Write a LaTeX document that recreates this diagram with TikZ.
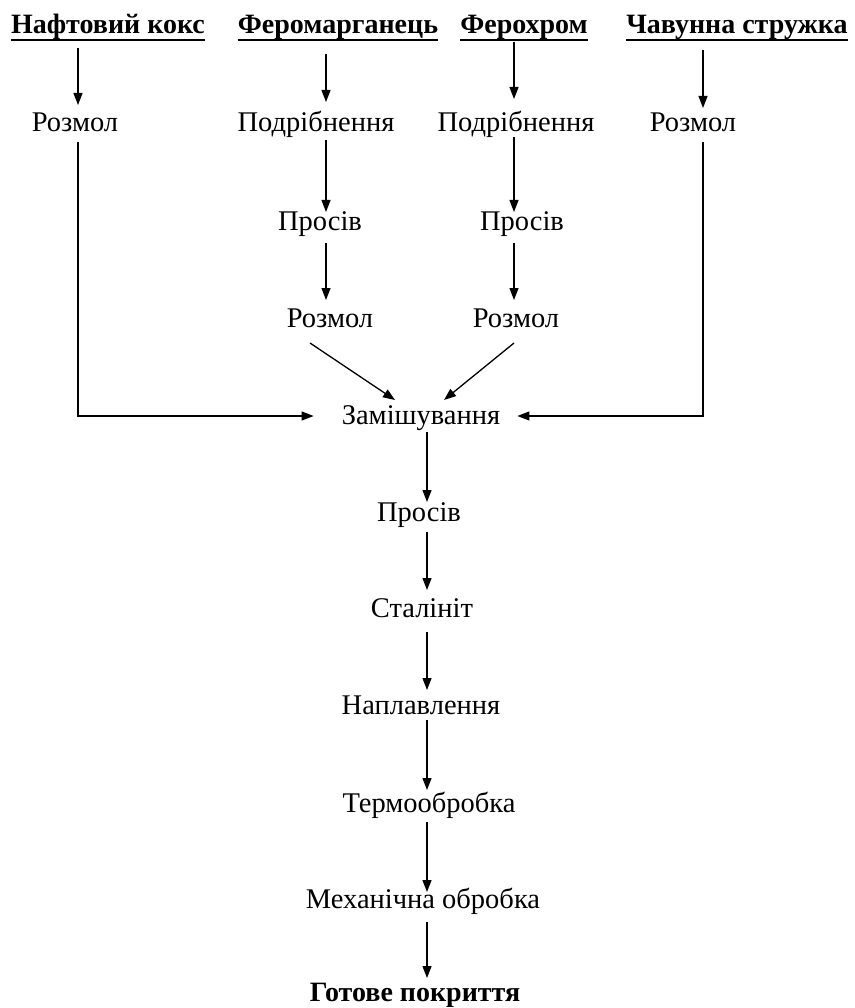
\documentclass[tikz,border=0pt]{standalone}
\usepackage{fontspec}
\setmainfont{Liberation Serif}
\usetikzlibrary{arrows.meta}
\begin{document}
\begin{tikzpicture}[x=1pt,y=1pt,
  lab/.style={anchor=base,inner sep=0pt,font=\fontsize{28.5}{30}\selectfont},
  head/.style={anchor=base,inner sep=0pt,font=\fontsize{28}{30}\selectfont\bfseries},
  arr/.style={line width=1.3pt,-{Triangle[length=12pt,width=9pt]}},
  uline/.style={line width=1.8pt}]
\useasboundingbox (0,0) rectangle (854,-1008);
% column coordinates
\coordinate (c1) at (78,0);
\coordinate (c2) at (326,0);
\coordinate (c3) at (514,0);
\coordinate (c4) at (703,0);
\coordinate (cm) at (427,0);
\coordinate (hl) at (0,-416);
% headers
\node[head] (h1) at (108,-34) {Нафтовий кокс};
\node[head] (h2) at (338,-34) {Феромарганець};
\node[head] (h3) at (524,-34) {Ферохром};
\node[head] (h4) at (737,-34) {Чавунна стружка};
\foreach \h in {h1,h2,h3,h4}
  \draw[uline] ([yshift=-6pt]\h.base west) -- ([yshift=-6pt]\h.base east);
% row 2
\node[lab] (r1) at (75,-132) {Розмол};
\node[lab] (r2) at (316,-132) {Подрібнення};
\node[lab] (r3) at (516,-132) {Подрібнення};
\node[lab] (r4) at (693,-132) {Розмол};
% row 3
\node[lab] (p2) at (320,-230) {Просів};
\node[lab] (p3) at (522,-230) {Просів};
% row 4
\node[lab] (m2) at (330,-327) {Розмол};
\node[lab] (m3) at (516,-327) {Розмол};
% main chain
\node[lab] (mix) at (421,-424) {Замішування};
\node[lab] (pr) at (419,-521) {Просів};
\node[lab] (st) at (422,-617) {Сталініт};
\node[lab] (nap) at (421,-714) {Наплавлення};
\node[lab] (term) at (429,-812) {Термообробка};
\node[lab] (mech) at (423,-908) {Механічна обробка};
\node[head] (got) at (415,-1001) {Готове покриття};
% header arrows
\draw[arr] ([yshift=-14pt]h1.base -| c1) -- ([yshift=27pt]r1.base -| c1);
\draw[arr] ([yshift=-20pt]h2.base -| c2) -- ([yshift=30pt]r2.base -| c2);
\draw[arr] ([yshift=-8pt]h3.base -| c3) -- ([yshift=33pt]r3.base -| c3);
\draw[arr] ([yshift=-16pt]h4.base -| c4) -- ([yshift=24pt]r4.base -| c4);
% column 2
\draw[arr] ([yshift=-8pt]r2.base -| c2) -- ([yshift=18pt]p2.base -| c2);
\draw[arr] ([yshift=-13pt]p2.base -| c2) -- ([yshift=27pt]m2.base -| c2);
% column 3
\draw[arr] ([yshift=-5pt]r3.base -| c3) -- ([yshift=18pt]p3.base -| c3);
\draw[arr] ([yshift=-13pt]p3.base -| c3) -- ([yshift=27pt]m3.base -| c3);
% into mixing
\draw[arr] ([xshift=-20pt,yshift=-16pt]m2.base) -- ([xshift=-26pt,yshift=24pt]mix.base);
\draw[arr] ([xshift=-2pt,yshift=-16pt]m3.base) -- ([xshift=23pt,yshift=24pt]mix.base);
\draw[arr] ([yshift=-10pt]r1.base -| c1) -- (c1 |- hl) -- ([xshift=-28pt]mix.west |- hl);
\draw[arr] ([yshift=-10pt]r4.base -| c4) -- (c4 |- hl) -- ([xshift=17pt]mix.east |- hl);
% main chain
\draw[arr] ([yshift=-8pt]mix.base -| cm) -- ([yshift=19pt]pr.base -| cm);
\draw[arr] ([yshift=-11pt]pr.base -| cm) -- ([yshift=27pt]st.base -| cm);
\draw[arr] ([yshift=-15pt]st.base -| cm) -- ([yshift=24pt]nap.base -| cm);
\draw[arr] ([yshift=-6pt]nap.base -| cm) -- ([yshift=22pt]term.base -| cm);
\draw[arr] ([yshift=-10pt]term.base -| cm) -- ([yshift=16pt]mech.base -| cm);
\draw[arr] ([yshift=-14pt]mech.base -| cm) -- ([yshift=23pt]got.base -| cm);
\end{tikzpicture}
\end{document}
